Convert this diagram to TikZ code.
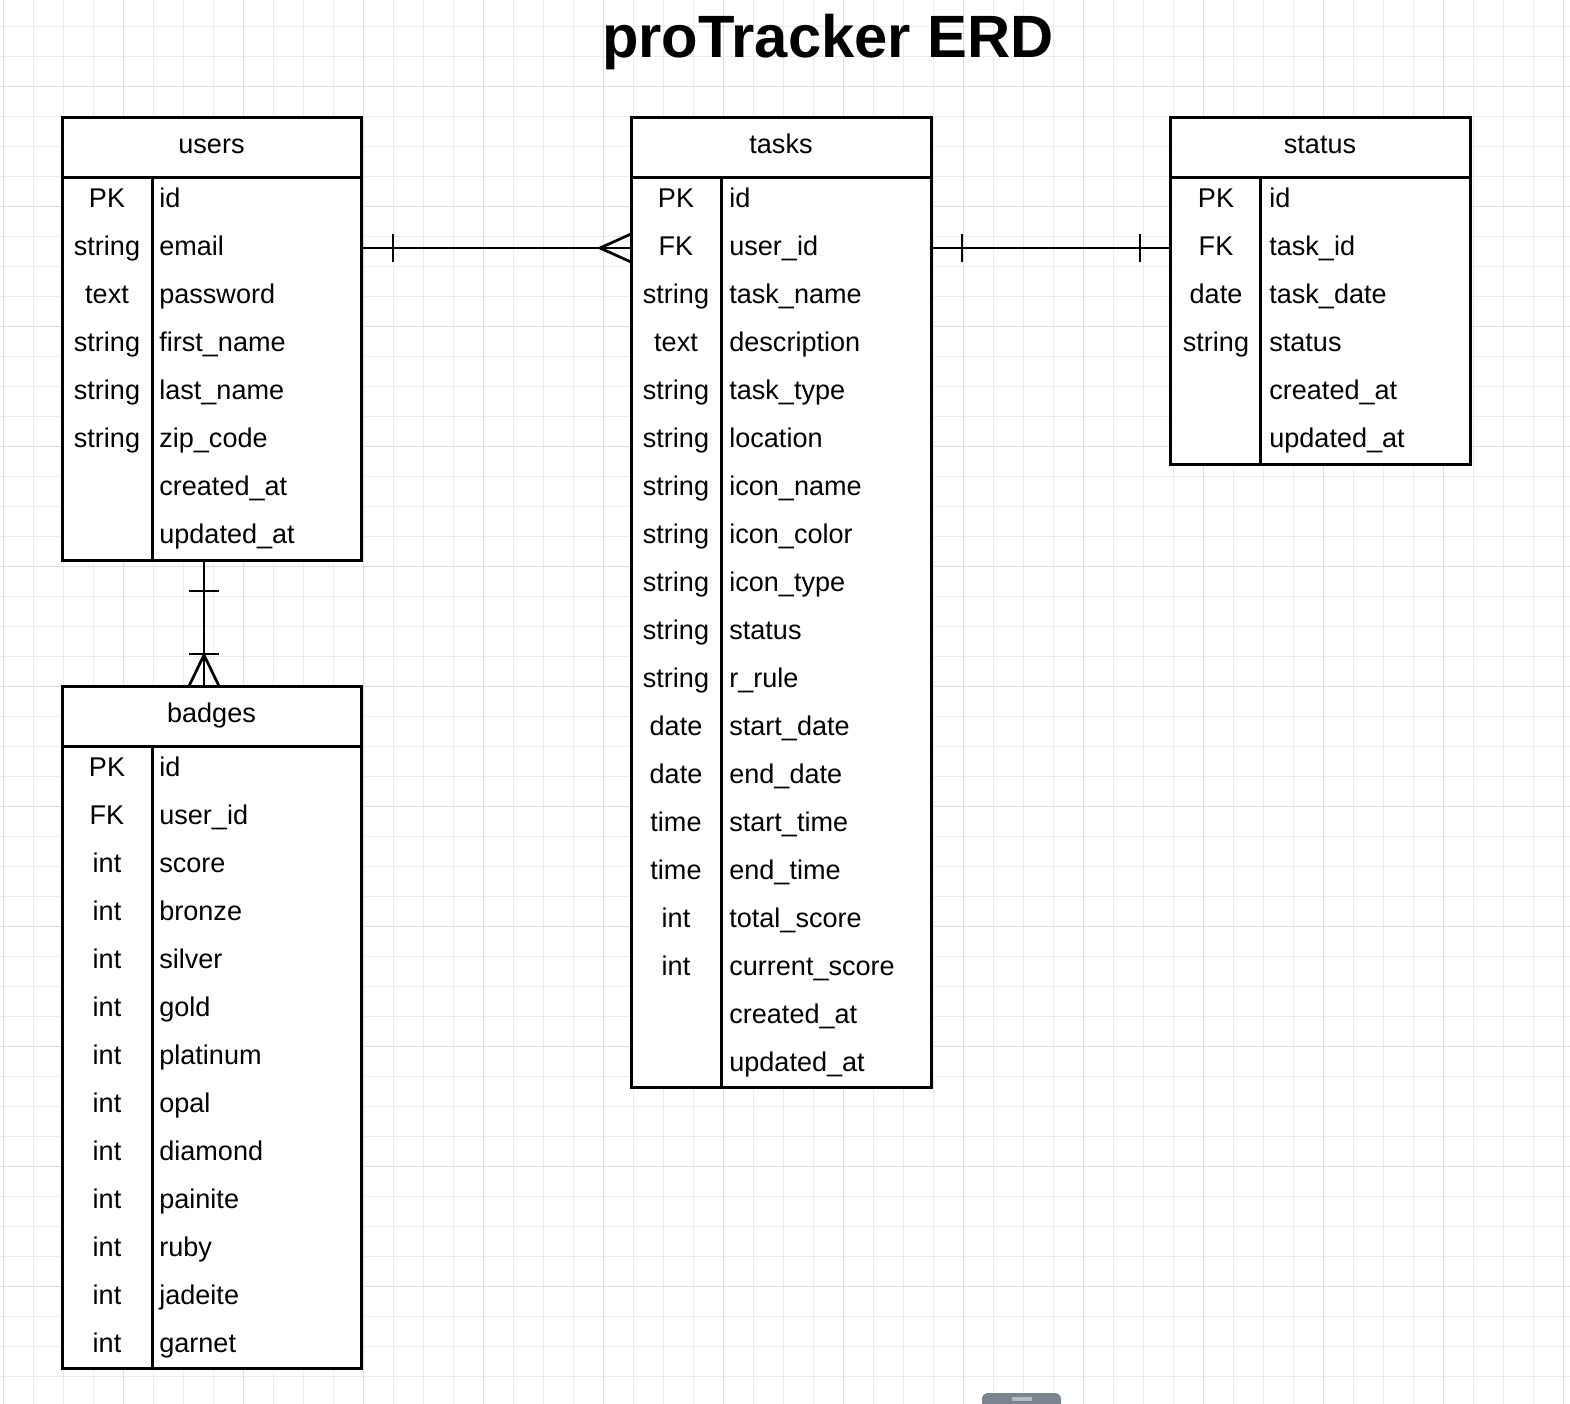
\documentclass[tikz,border=0pt]{standalone}
\usepackage{fontspec}
\setmainfont{Liberation Sans}
\usetikzlibrary{fit}

\definecolor{gridminor}{HTML}{EBEBEB}
\definecolor{gridmajor}{HTML}{DDDDDD}
\definecolor{widget}{HTML}{7B848E}
\definecolor{widgetbar}{HTML}{B4BCC6}

\newcommand{\erdfont}{\fontsize{15.4}{18}\selectfont}

\tikzset{
  gridln/.style={gridminor, line width=0.02cm},
  gridmj/.style={gridmajor, line width=0.02cm},
  tbl/.style={draw, fill=white, line width=0.06cm, inner sep=0pt, outer sep=0pt},
  sepline/.style={line width=0.06cm},
  rel/.style={line width=0.055cm},
  hdr/.style={inner sep=0pt, anchor=base, font=\erdfont},
  keytxt/.style={inner sep=0pt, anchor=base, font=\erdfont},
  fldtxt/.style={inner sep=0pt, anchor=base west, font=\erdfont},
  ttl/.style={inner sep=0pt, anchor=base, font=\fontsize{34}{40}\selectfont\bfseries}
}

\begin{document}
\begin{tikzpicture}[x=0.02cm, y=-0.02cm]
\useasboundingbox (0,0) rectangle (1570,1404);
\fill[white] (0,0) rectangle (1570,1404);

% grid
\foreach \x in {3,33,...,1563}
  \draw[gridln] (\x,0) -- (\x,1404);
\foreach \y in {26,56,...,1396}
  \draw[gridln] (0,\y) -- (1570,\y);
\foreach \x in {3,123,...,1563}
  \draw[gridmj] (\x,0) -- (\x,1404);
\foreach \y in {86,206,...,1396}
  \draw[gridmj] (0,\y) -- (1570,\y);

\node[ttl] (title) at (828,57) {proTracker ERD};

% users
\node[tbl, fit={(62,117) (361,560)}] (users) {};
\draw[sepline] (62,177) -- (361,177);
\draw[sepline] (152,177) -- (152,560);
\node[hdr] (users-title) at (211.5,153) {users};
\foreach \k/\f [count=\i from 0] in {PK/id, string/email, text/password, string/first\_name, string/last\_name, string/zip\_code, {}/created\_at, {}/updated\_at} {
  \coordinate (users-r\i) at (107,200+48*\i);
  \node[keytxt] (users-k\i) at (107,207+48*\i) {\k};
  \node[fldtxt] (users-f\i) at (159,207+48*\i) {\f};
}

% tasks
\node[tbl, fit={(631,117) (931,1087)}] (tasks) {};
\draw[sepline] (631,177) -- (931,177);
\draw[sepline] (721,177) -- (721,1087);
\node[hdr] (tasks-title) at (781,153) {tasks};
\foreach \k/\f [count=\i from 0] in {PK/id, FK/user\_id, string/task\_name, text/description, string/task\_type, string/location, string/icon\_name, string/icon\_color, string/icon\_type, string/status, string/r\_rule, date/start\_date, date/end\_date, time/start\_time, time/end\_time, int/total\_score, int/current\_score, {}/created\_at, {}/updated\_at} {
  \coordinate (tasks-r\i) at (676,200+48*\i);
  \node[keytxt] (tasks-k\i) at (676,207+48*\i) {\k};
  \node[fldtxt] (tasks-f\i) at (729,207+48*\i) {\f};
}

% status
\node[tbl, fit={(1170,117) (1470,464)}] (status) {};
\draw[sepline] (1170,177) -- (1470,177);
\draw[sepline] (1260,177) -- (1260,464);
\node[hdr] (status-title) at (1320,153) {status};
\foreach \k/\f [count=\i from 0] in {PK/id, FK/task\_id, date/task\_date, string/status, {}/created\_at, {}/updated\_at} {
  \coordinate (status-r\i) at (1216,200+48*\i);
  \node[keytxt] (status-k\i) at (1216,207+48*\i) {\k};
  \node[fldtxt] (status-f\i) at (1269,207+48*\i) {\f};
}

% badges
\node[tbl, fit={(62,686) (361,1368)}] (badges) {};
\draw[sepline] (62,746) -- (361,746);
\draw[sepline] (152,746) -- (152,1368);
\node[hdr] (badges-title) at (211.5,722) {badges};
\foreach \k/\f [count=\i from 0] in {PK/id, FK/user\_id, int/score, int/bronze, int/silver, int/gold, int/platinum, int/opal, int/diamond, int/painite, int/ruby, int/jadeite, int/garnet} {
  \coordinate (badges-r\i) at (107,769+48*\i);
  \node[keytxt] (badges-k\i) at (107,776+48*\i) {\k};
  \node[fldtxt] (badges-f\i) at (159,776+48*\i) {\f};
}

% users -- tasks (one to many)
\draw[rel] (users.east |- users-r1) -- (tasks.west |- users-r1);
\draw[rel] (users.east |- users-r1) ++(32,-14) -- ++(0,28);
\draw[rel] (tasks.west |- users-r1) ++(0,-14) -- ++(-31,14) -- ++(31,14);

% tasks -- status (one to one)
\draw[rel] (tasks.east |- tasks-r1) -- (status.west |- tasks-r1);
\draw[rel] (tasks.east |- tasks-r1) ++(31,-14) -- ++(0,28);
\draw[rel] (status.west |- tasks-r1) ++(-30,-14) -- ++(0,28);

% users -- badges (one to one or many)
\coordinate (ub) at (204,620);
\draw[rel] (users.south -| ub) -- (badges.north -| ub);
\draw[rel] (users.south -| ub) ++(-15,31) -- ++(30,0);
\draw[rel] (badges.north -| ub) ++(-15,-32) -- ++(30,0);
\draw[rel] (badges.north -| ub) ++(-15,0) -- ++(15,-31) -- ++(15,31);

% handle at the bottom edge
\begin{scope}
  \clip (0,0) rectangle (1570,1404);
  \fill[widget, rounded corners=0.12cm] (982,1393) rectangle (1061,1420);
  \fill[widgetbar] (1012,1397) rectangle (1032,1401);
\end{scope}
\end{tikzpicture}
\end{document}
